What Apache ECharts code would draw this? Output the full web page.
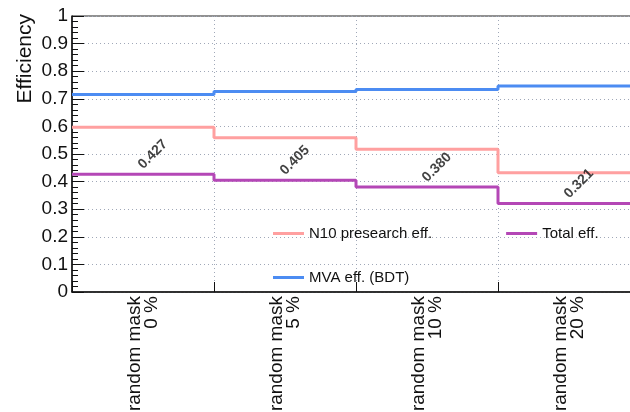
<!DOCTYPE html>
<html><head><meta charset="utf-8">
<script src="https://cdn.jsdelivr.net/npm/echarts@6/dist/echarts.min.js"></script>
<style>html,body{margin:0;padding:0;background:#fff}#c{width:630px;height:412px}</style>
</head><body><div id="c"></div>
<script>
const categories = ['random mask\n0 %', 'random mask\n5 %', 'random mask\n10 %', 'random mask\n20 %'];
const mvaEff = [0.716, 0.726, 0.734, 0.746];
const n10Eff = [0.597, 0.559, 0.517, 0.432];
const totalEff = [0.427, 0.405, 0.380, 0.321];
const yTicks = [0, 0.1, 0.2, 0.3, 0.4, 0.5, 0.6, 0.7, 0.8, 0.9, 1];

const FONT = "'Liberation Sans', Arial, Helvetica, sans-serif";
function stepData(vals) {
  const d = vals.map((v, i) => [i, v]);
  d.push([vals.length, vals[vals.length - 1]]);
  return d;
}
function lineSeries(name, vals, color) {
  return {
    name, type: 'line', step: 'end', data: stepData(vals),
    xAxisIndex: 0, yAxisIndex: 0, symbol: 'none',
    lineStyle: { color, width: 3 }, itemStyle: { color }, z: 3
  };
}
const chart = echarts.init(document.getElementById('c'), null, { renderer: 'canvas' });
chart.setOption({
  animation: false,
  backgroundColor: '#fff',
  textStyle: { fontFamily: FONT },
  grid: { left: 72, top: 16, width: 568, height: 276, show: true, borderColor: '#222', borderWidth: 1,
    containLabel: false, outerBoundsMode: 'none' },
  legend: [
    { data: ['N10 presearch eff.', 'Total eff.'], left: 268, top: 221, itemGap: 74, itemWidth: 31, itemHeight: 3, icon: 'rect',
      textStyle: { fontFamily: FONT, fontSize: 15, color: '#111' } },
    { data: ['MVA eff. (BDT)'], left: 268, top: 265, itemWidth: 31, itemHeight: 3, icon: 'rect',
      textStyle: { fontFamily: FONT, fontSize: 15, color: '#111' } }
  ],
  xAxis: [
    { type: 'value', min: 0, max: categories.length, interval: 1,
      axisLine: { show: true, onZero: false, lineStyle: { color: '#111', width: 1.5 } },
      axisTick: { show: true, inside: true, length: 10, lineStyle: { color: '#111' } },
      axisLabel: { show: false },
      splitLine: { show: true, lineStyle: { type: [1, 3], color: '#a0a8b8', width: 1 } } },
    { type: 'category', data: categories, position: 'bottom', boundaryGap: true,
      axisLine: { show: false }, axisTick: { show: false }, splitLine: { show: false },
      axisLabel: { rotate: 90, fontSize: 19, fontFamily: FONT, color: '#111', lineHeight: 17, margin: 4, align: 'right', verticalAlign: 'middle' } }
  ],
  yAxis: {
    type: 'value', min: 0, max: 1, interval: 0.1,
    name: 'Efficiency', nameLocation: 'end', nameRotate: 90, nameGap: 2,
    nameTextStyle: { fontSize: 21, fontFamily: FONT, color: '#111', align: 'right', verticalAlign: 'bottom', padding: [0, 0, 36, 0] },
    axisLine: { show: true, lineStyle: { color: '#111', width: 1.5 } },
    axisTick: { show: true, inside: true, length: 12, lineStyle: { color: '#111' } },
    minorTick: { show: true, splitNumber: 5, length: 6, lineStyle: { color: '#111' } },
    axisLabel: { fontSize: 19, fontFamily: FONT, color: '#111', margin: 4,
      formatter: v => { const t = yTicks.find(x => Math.abs(x - v) < 1e-6); return t === undefined ? '' : String(t); } },
    splitLine: { show: true, lineStyle: { type: [1, 3], color: '#a0a8b8', width: 1 } }
  },
  series: [
    lineSeries('N10 presearch eff.', n10Eff, '#ffa0a0'),
    lineSeries('Total eff.', totalEff, '#b447b6'),
    lineSeries('MVA eff. (BDT)', mvaEff, '#4c8cf2'),
    { type: 'scatter', xAxisIndex: 0, yAxisIndex: 0, symbolSize: 0, silent: true, z: 5,
      data: totalEff.map((v, i) => [i + 0.5, v]),
      label: { show: true, position: 'inside', rotate: 45, offset: [21, -7],
        formatter: p => p.value[1].toFixed(3), fontFamily: FONT, fontSize: 14, fontWeight: 'bold', color: '#111' } }
  ]
});
</script></body></html>
